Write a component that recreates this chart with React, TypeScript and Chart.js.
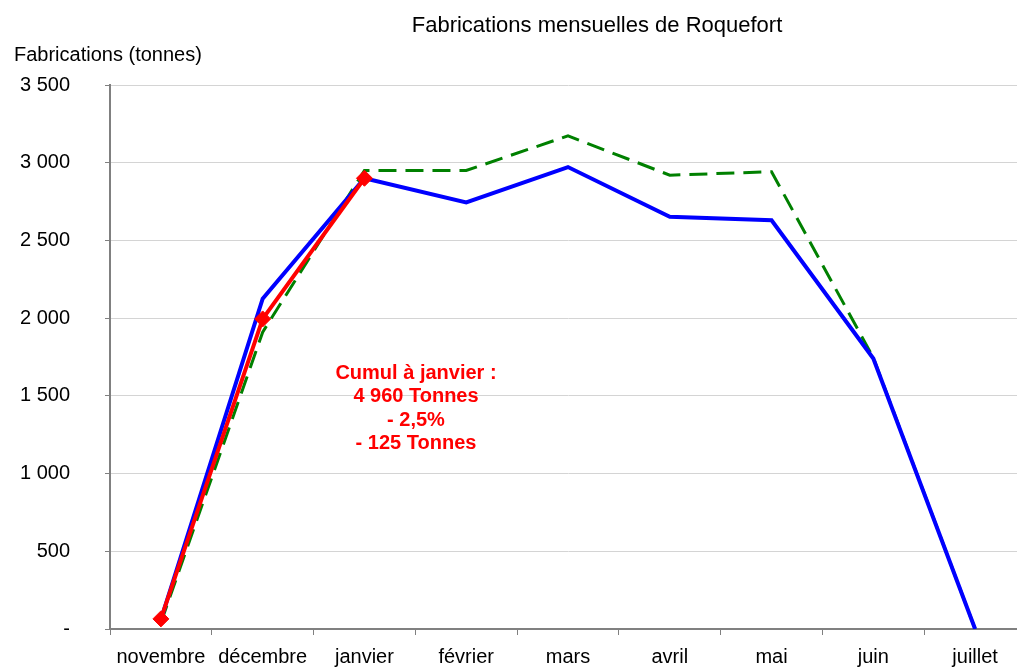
import React, { useEffect, useRef } from "react";
import { Chart, registerables } from "chart.js";

Chart.register(...registerables);

const months = ["novembre", "décembre", "janvier", "février", "mars", "avril", "mai", "juin", "juillet"];
const currentSeason = [65, 1995, 2900, null, null, null, null, null, null];
const previousSeason = [60, 2125, 2900, 2745, 2972, 2652, 2630, 1740, 0];
const referenceSeason = [40, 1910, 2950, 2950, 3173, 2920, 2942, 1745, 0];
const yTicks = [0, 500, 1000, 1500, 2000, 2500, 3000, 3500];

const chartTitle = "Fabrications mensuelles de Roquefort";
const yAxisTitle = "Fabrications (tonnes)";
const noteLines = ["Cumul à janvier :", "4 960 Tonnes", "- 2,5%", "- 125 Tonnes"];

const FONT = "'Liberation Sans', Arial, Helvetica, sans-serif";

const fmt = (v: number) => {
  if (v === 0) return "-";
  const s = String(Math.round(v));
  return s.replace(/\B(?=(\d{3})+(?!\d))/g, " ");
};

const textPlugin = {
  id: "texts",
  afterDraw(chart: any) {
    const ctx = chart.ctx;
    ctx.save();
    ctx.fillStyle = "#000";
    ctx.textBaseline = "alphabetic";
    ctx.font = `22px ${FONT}`;
    ctx.textAlign = "center";
    ctx.fillText(chartTitle, 597, 31.5);
    ctx.font = `20px ${FONT}`;
    ctx.textAlign = "left";
    ctx.fillText(yAxisTitle, 14, 61);
    ctx.fillStyle = "#ff0000";
    ctx.font = `bold 20px ${FONT}`;
    ctx.textAlign = "center";
    const base = [378.5, 402, 425.5, 449];
    noteLines.forEach((l, i) => ctx.fillText(l, 416, base[i]));
    ctx.restore();
  },
};

export default function App() {
  const ref = useRef<HTMLCanvasElement | null>(null);
  useEffect(() => {
    if (!ref.current) return;
    const chart = new Chart(ref.current, {
      type: "line",
      data: {
        labels: months,
        datasets: [
          {
            label: "2024-2025",
            data: currentSeason,
            borderColor: "#ff0000",
            backgroundColor: "#ff0000",
            borderWidth: 4,
            pointStyle: "rectRot",
            pointRadius: 8,
            pointBorderWidth: 1,
            pointBorderColor: "#ff0000",
            pointBackgroundColor: "#ff0000",
            tension: 0,
            spanGaps: false,
          },
          {
            label: "2023-2024",
            data: previousSeason,
            borderColor: "#0000ff",
            borderWidth: 4,
            pointRadius: 0,
            tension: 0,
          },
          {
            label: "Référence",
            data: referenceSeason,
            borderColor: "#008000",
            borderWidth: 3,
            borderDash: [18, 9],
            pointRadius: 0,
            tension: 0,
          },
        ],
      },
      options: {
        animation: false,
        responsive: false,
        maintainAspectRatio: false,
        devicePixelRatio: 1,
        layout: { padding: { top: 85, left: 0, right: 0, bottom: 0 } },
        plugins: {
          legend: { display: false },
          title: { display: false },
          tooltip: { enabled: false },
        },
        scales: {
          x: {
            type: "category",
            offset: true,
            afterFit: (s: any) => {
              s.height = 40;
              s.paddingLeft = 0;
              s.paddingRight = 0;
            },
            border: { display: true, color: "#808080", width: 2 },
            grid: {
              display: true,
              offset: true,
              drawOnChartArea: false,
              drawTicks: true,
              tickLength: 6,
              tickColor: "#808080",
            },
            ticks: {
              autoSkip: false,
              maxRotation: 0,
              padding: 10,
              color: "#000",
              font: { family: FONT, size: 20 },
            },
          },
          y: {
            min: 0,
            max: 3500,
            afterFit: (s: any) => {
              s.width = 110;
              s.paddingTop = 0;
              s.paddingBottom = 0;
            },
            afterBuildTicks: (s: any) => {
              s.ticks = yTicks.map((v) => ({ value: v }));
            },
            border: { display: true, color: "#808080", width: 2 },
            grid: {
              color: "#d4d4d4",
              lineWidth: 1,
              tickLength: 5,
              tickColor: "#808080",
            },
            ticks: {
              padding: 35,
              color: "#000",
              font: { family: FONT, size: 20 },
              callback: (v: any) => fmt(Number(v)),
            },
          },
        },
      },
      plugins: [textPlugin],
    });
    return () => chart.destroy();
  }, []);
  return (
    <div
      style={{
        position: "fixed",
        left: 0,
        top: 0,
        width: 1017,
        height: 669,
        overflow: "hidden",
        background: "#fff",
      }}
    >
      <div style={{ position: "relative", width: 1035, height: 669 }}>
        <canvas ref={ref} width={1035} height={669} style={{ display: "block", width: 1035, height: 669 }} />
      </div>
    </div>
  );
}
